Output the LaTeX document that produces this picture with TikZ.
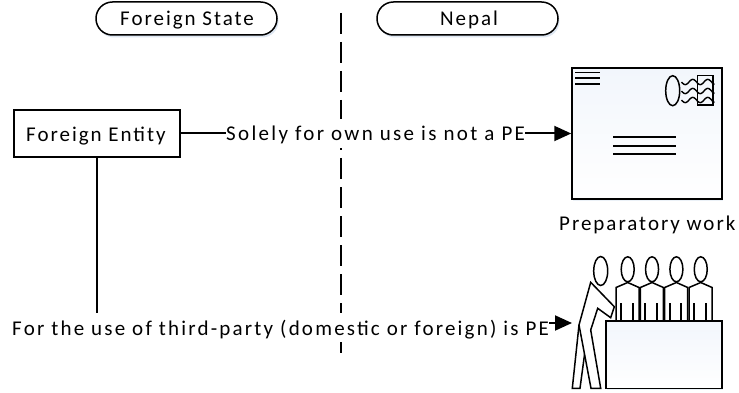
\documentclass[tikz,border=0pt]{standalone}
\usepackage{fontspec}
\setmainfont[LetterSpace=9.4]{Carlito}
\newfontfamily\lblA[LetterSpace=11]{Carlito}
\newfontfamily\lblB[LetterSpace=10.5]{Carlito}
\usetikzlibrary{arrows.meta,shadows,calc}
\definecolor{shadowblue}{HTML}{9DB7D8}
\definecolor{topblue}{HTML}{F2F6FC}
\tikzset{
  txt/.style={font=\fontsize{21}{23}\selectfont,text=black,inner sep=0pt,anchor=base west},
  lbl/.style={txt,fill=white,text height=22pt,text depth=7pt},
  pill/.style={draw=black,line width=1.5pt,fill=white,rounded corners=16.4pt,minimum width=181pt,minimum height=33pt,inner sep=0pt,
    drop shadow={shadow xshift=1.5pt,shadow yshift=-2.5pt,fill=shadowblue,opacity=.35}},
  box/.style={draw=black,line width=1.5pt,fill=white,inner sep=0pt},
  art/.style={draw=black,line width=1.5pt,fill=white,line join=miter},
  rulel/.style={draw=black,line width=1.8pt},
  conn/.style={draw=black,line width=2pt},
  thinline/.style={draw=black,line width=1.6pt},
  tip/.style={-{Triangle[length=17pt,width=15pt]}},
  panel/.style={draw=black,line width=1.5pt,inner sep=0pt,top color=topblue,bottom color=white,
    drop shadow={shadow xshift=1pt,shadow yshift=-2pt,fill=shadowblue,opacity=.2}}
}
\begin{document}
\begin{tikzpicture}[x=1pt,y=-1pt]
\useasboundingbox (0,0) rectangle (739,393);
% boxes
\node[pill] (foreignstate) at (186.5,18.5) {};
\node[pill] (nepal) at (467.5,18.5) {};
\node[box,minimum width=166pt,minimum height=47pt] (entity) at (97,133.5) {};
\node[panel,minimum width=150pt,minimum height=131pt] (envelope) at (647,133.5) {};
\coordinate (linetop) at (341,13);
\coordinate (linebot) at (341,356);
\coordinate (persontip) at (572,323);
% boundary and connectors
\draw[rulel,dash pattern=on 21pt off 8pt] (linetop) -- (linebot);
\draw[conn,tip] (entity.east) -- (envelope.west);
\draw[conn,tip] (entity.south) |- (persontip);
% texts
\node[txt] (t1) at (120,26) {Foreign State};
\node[txt] (t2) at (440,26) {Nepal};
\node[txt] (t3) at (26,141.7) {Foreign Entity};
\node[lbl] (l1) at (226,140.7) {\lblA Solely for own use is not a PE};
\node[txt] (t4) at (559,230.7) {Preparatory work};
\node[lbl] (l2) at (12,335) {\lblB For the use of third-party (domestic or foreign) is PE};
% envelope art
\foreach \y in {72.7,78.3,84}{\draw[thinline] (575,\y) -- (600,\y);}
\foreach \y in {137.3,146,154.3}{\draw[thinline] (613.3,\y) -- (676,\y);}
\draw[art,fill=none] (672.7,90.7) ellipse [x radius=7,y radius=15];
\draw[art,fill=none] (697.7,75.7) rectangle (713,105);
\foreach \y in {82,91,100}{
  \draw[black,line width=1.4pt] plot[domain=0:33,samples=45,smooth] ({681.5+\x},{\y+2.6*sin(\x*24)});
}
% people
\foreach \c in {0,1,2,3}{
  \begin{scope}[xshift=\c*24.35pt]
  \draw[art] (616,321) -- (616,287.5) -- (627.7,282.5) -- (639,287.5) -- (639,321);
  \draw[art,fill=none] (627.7,269.3) ellipse [x radius=6.5,y radius=12.5];
  \draw[conn] (621,303) -- (621,321);
  \draw[conn] (632.7,303) -- (632.7,321);
  \end{scope}
}
\node[panel,minimum width=116pt,minimum height=67.5pt] (counter) at (664,354.5) {};
\draw[art,fill=none] (600.7,271) ellipse [x radius=7,y radius=14.5];
\draw[art] (579,325) -- (572.3,388.3) -- (580,388.3) -- (585,351);
\draw[art] (590.7,282.3) -- (614.3,306.7) -- (610.7,317.7) -- (597.7,308.3) -- (590.7,330) -- (600.7,388.3) -- (591,388.3) -- (579,325) -- cycle;
\end{tikzpicture}
\end{document}
